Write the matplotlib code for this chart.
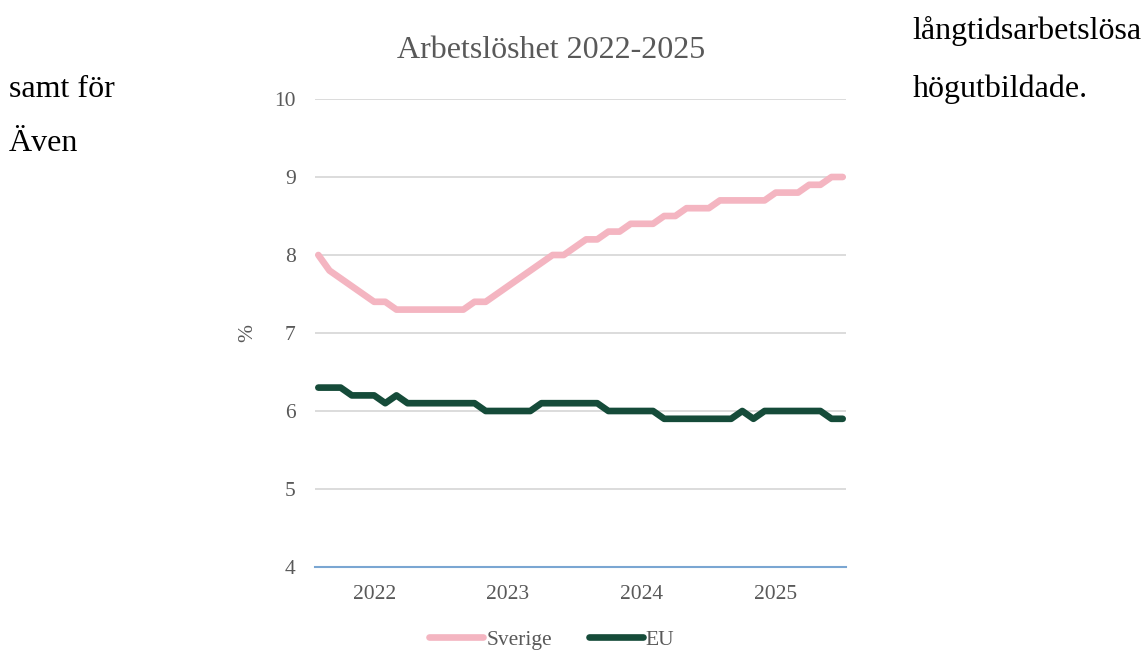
import numpy as np
import matplotlib
matplotlib.use("Agg")
import matplotlib.pyplot as plt

plt.rcParams.update({'font.family': ['Liberation Serif', 'DejaVu Serif']})

# monthly values, Aug 2021 - Jul 2025
sverige = [8.0, 7.8, 7.7, 7.6, 7.5, 7.4, 7.4, 7.3, 7.3, 7.3, 7.3, 7.3, 7.3, 7.3,
           7.4, 7.4, 7.5, 7.6, 7.7, 7.8, 7.9, 8.0, 8.0, 8.1, 8.2, 8.2, 8.3, 8.3,
           8.4, 8.4, 8.4, 8.5, 8.5, 8.6, 8.6, 8.6, 8.7, 8.7, 8.7, 8.7, 8.7, 8.8,
           8.8, 8.8, 8.9, 8.9, 9.0, 9.0]
eu = [6.3, 6.3, 6.3, 6.2, 6.2, 6.2, 6.1, 6.2, 6.1, 6.1, 6.1, 6.1, 6.1, 6.1,
      6.1, 6.0, 6.0, 6.0, 6.0, 6.0, 6.1, 6.1, 6.1, 6.1, 6.1, 6.1, 6.0, 6.0,
      6.0, 6.0, 6.0, 5.9, 5.9, 5.9, 5.9, 5.9, 5.9, 5.9, 6.0, 5.9, 6.0, 6.0,
      6.0, 6.0, 6.0, 6.0, 5.9, 5.9]
year_labels = ['2022', '2023', '2024', '2025']
year_pos = [5, 17, 29, 41]  # January of each year
y_ticks = [4, 5, 6, 7, 8, 9, 10]

gray = '#595959'
pink = '#f4b5c1'
green = '#154b39'

fig = plt.figure(figsize=(11.45, 6.53), dpi=100)
ax = fig.add_axes([0.2751, 0.1317, 0.4638, 0.7167])

x = np.arange(len(sverige))
ax.plot(x, sverige, color=pink, linewidth=4.8, label='Sverige', solid_capstyle='round')
ax.plot(x, eu, color=green, linewidth=4.8, label='EU', solid_capstyle='round')

ax.set_xlim(-0.3, len(sverige) - 0.7)
ax.set_ylim(4, 10)
ax.set_yticks(y_ticks)
ax.set_xticks(year_pos)
ax.set_xticklabels(year_labels)
ax.tick_params(length=0, labelsize=15.5, labelcolor=gray)
ax.tick_params(axis='y', pad=14)
ax.tick_params(axis='x', pad=13)
ax.grid(axis='y', color='#d9d9d9', linewidth=1.3)
ax.set_axisbelow(True)
for s in ['top', 'left', 'right']:
    ax.spines[s].set_visible(False)
ax.spines['bottom'].set_color('#7aa6d2')
ax.spines['bottom'].set_linewidth(1.5)
ax.set_ylabel('%', color=gray, fontsize=15.5, labelpad=12)

fig.text(0.481, 1 - 51 / 653, 'Arbetslöshet 2022-2025', ha='center', va='center',
         fontsize=23, color=gray)

# surrounding document text
fig.text(0.008, 1 - 97 / 653, 'samt för', fontsize=23, color='black', va='baseline')
fig.text(0.008, 1 - 151 / 653, 'Även', fontsize=23, color='black', va='baseline')
fig.text(0.997, 1 - 39 / 653, 'långtidsarbetslösa', fontsize=23, color='black',
         va='baseline', ha='right')
fig.text(0.797, 1 - 97 / 653, 'högutbildade.', fontsize=23, color='black', va='baseline')

fig.legend(loc='center', bbox_to_anchor=(0.482, 0.02), ncol=2, frameon=False,
           fontsize=15.5, labelcolor=gray, handlelength=2.5, handletextpad=0.15,
           columnspacing=1.7, borderpad=0.1)

fig.savefig('out.png', dpi=100)
